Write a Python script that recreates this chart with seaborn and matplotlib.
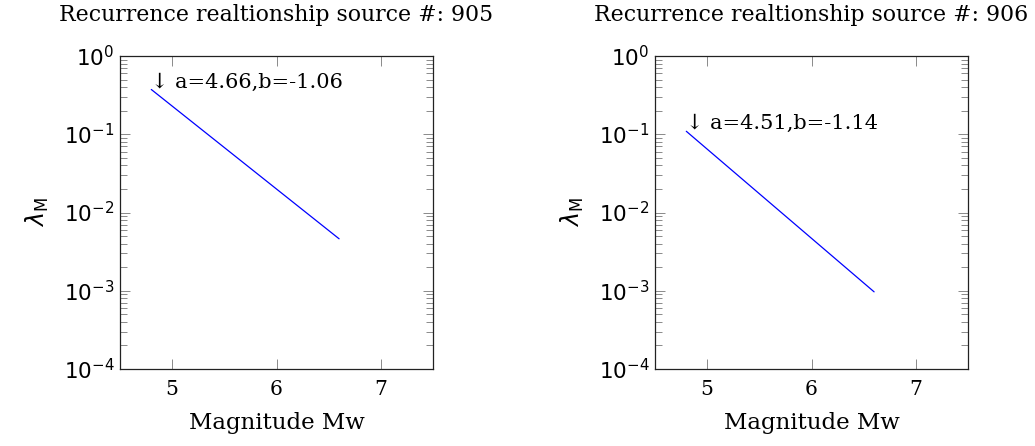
import numpy as np
import pandas as pd
import matplotlib
matplotlib.use("Agg")
import matplotlib.pyplot as plt
import seaborn as sns

# Gutenberg-Richter parameters per source: log10(lambda) = a + b*M
sources = [905, 906]
a_values = [4.66, 4.51]
b_values = [-1.06, -1.14]
magnitudes = [4.8, 6.6]  # minimum and maximum magnitude of the fitted range

sns.set_theme(style="ticks")
plt.rcParams["font.family"] = ["DejaVu Serif"]
plt.rcParams["mathtext.fontset"] = "dejavusans"
plt.rcParams["text.color"] = "black"
plt.rcParams["axes.labelcolor"] = "black"
plt.rcParams["xtick.labelcolor"] = "black"
plt.rcParams["ytick.labelcolor"] = "black"

fig = plt.figure(figsize=(10.35, 4.46), dpi=100)
W, H = 1035, 446
boxes = [(120, 56, 313, 313), (655, 56, 313, 313)]

for (src, a, b), (x0, y0, w, h) in zip(zip(sources, a_values, b_values), boxes):
    ax = fig.add_axes([x0 / W, 1 - (y0 + h) / H, w / W, h / H])
    mags = np.array(magnitudes)
    rates = 10 ** (a + b * mags)
    df = pd.DataFrame({"M": mags, "rate": rates})
    sns.lineplot(data=df, x="M", y="rate", ax=ax, color="blue", linewidth=0.9)
    ax.set_yscale("log")
    ax.set_xlim(4.5, 7.5)
    ax.set_ylim(1e-4, 1e0)
    ax.set_xticks([5, 6, 7])
    ax.set_xticklabels(["5", "6", "7"], fontsize=14.5)
    ax.set_yticks([1e-4, 1e-3, 1e-2, 1e-1, 1e0])
    ax.set_yticklabels([r"$10^{-4}$", r"$10^{-3}$", r"$10^{-2}$", r"$10^{-1}$", r"$10^{0}$"],
                       fontsize=15.5)
    ax.minorticks_on()
    ax.xaxis.set_minor_locator(matplotlib.ticker.NullLocator())
    ax.tick_params(which="both", direction="in", top=True, right=True, color="#8a8a8a",
                   width=0.7)
    ax.tick_params(which="major", length=7.5)
    ax.tick_params(which="minor", length=5)
    ax.tick_params(axis="x", pad=8)
    ax.tick_params(axis="y", pad=4)
    for s in ax.spines.values():
        s.set_linewidth(0.9)
        s.set_color("#222222")
    ax.set_xlabel("Magnitude Mw", fontsize=16.5, labelpad=9)
    ax.set_ylabel(r"$\lambda_{\mathrm{M}}$", fontsize=17, labelpad=9)
    ax.set_title(f"Recurrence realtionship source #: {src}", fontsize=15.8, pad=25)
    ax.annotate(f"\u2193 a={a:.2f},b={b:.2f}", xy=(mags[0], rates[0]),
                xytext=(-0.5, 1.5), textcoords="offset points", fontsize=15,
                ha="left", va="baseline")

fig.savefig("out.png", dpi=100)
